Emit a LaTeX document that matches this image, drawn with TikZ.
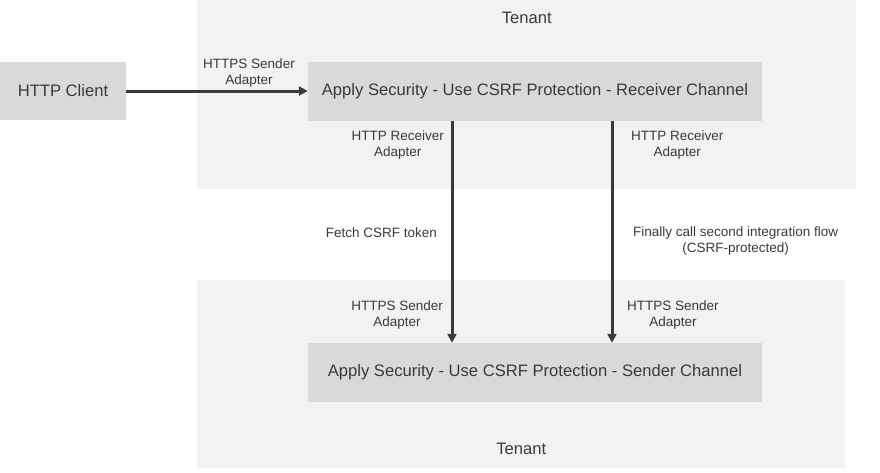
\documentclass[tikz,border=0pt]{standalone}
\usepackage{fontspec}
\setmainfont{Liberation Sans}
\usetikzlibrary{positioning,arrows.meta}
\definecolor{tenantgray}{HTML}{F2F2F2}
\definecolor{boxgray}{HTML}{D9D9D9}
\definecolor{inkgray}{HTML}{3A3A3A}

\begin{document}
\begin{tikzpicture}[
    x=1pt, y=-1pt,
    font=\fontsize{16.6}{19}\selectfont,
    text=inkgray,
    tenant/.style={fill=tenantgray, inner sep=0pt, anchor=north west},
    channel/.style={fill=boxgray, minimum width=454pt, minimum height=59pt},
    adapter/.style={font=\fontsize{13.5}{16}\selectfont, align=center, inner sep=0pt},
    flow/.style={-{Triangle[length=9pt,width=9pt]}, line width=3pt, draw=inkgray}
]
    \useasboundingbox (0,0) rectangle (880,472);

    % tenants
    \node[tenant, minimum width=659pt, minimum height=189pt] (tenantTop) at (197,0) {};
    \node[tenant, minimum width=648pt, minimum height=188pt] (tenantBottom) at (197,280) {};
    \node[below=9pt of tenantTop.north] (tenantTopLabel) {Tenant};
    \node[above=10pt of tenantBottom.south] (tenantBottomLabel) {Tenant};

    % channels
    \node[channel, minimum width=126pt, minimum height=58pt] (client) at (63,91) {HTTP Client};
    \node[channel] (receiver) at (535,91) {Apply Security - Use CSRF Protection - Receiver Channel};
    \node[channel] (sender) at (535,372.5) {Apply Security - Use CSRF Protection - Sender Channel};

    % flows
    \coordinate (fetchX) at (452,0);
    \coordinate (callX) at (612,0);
    \draw[flow] (client) -- (receiver);
    \draw[flow] (receiver.south -| fetchX) -- (sender.north -| fetchX);
    \draw[flow] (receiver.south -| callX) -- (sender.north -| callX);

    % adapter labels
    \node[adapter] (inSender) at (249,73) {HTTPS Sender\\Adapter};
    \node[adapter, anchor=east] (fetchReceiver) at (444,145) {HTTP Receiver\\Adapter};
    \node[adapter, anchor=west] (callReceiver) at (631,145) {HTTP Receiver\\Adapter};
    \node[adapter, anchor=east] (fetchLabel) at (437,233) {Fetch CSRF token};
    \node[adapter, anchor=west] (callLabel) at (633,241) {Finally call second integration flow\\(CSRF-protected)};
    \node[adapter, anchor=east] (fetchSender) at (443,315) {HTTPS Sender\\Adapter};
    \node[adapter, anchor=west] (callSender) at (627,315) {HTTPS Sender\\Adapter};
\end{tikzpicture}
\end{document}
